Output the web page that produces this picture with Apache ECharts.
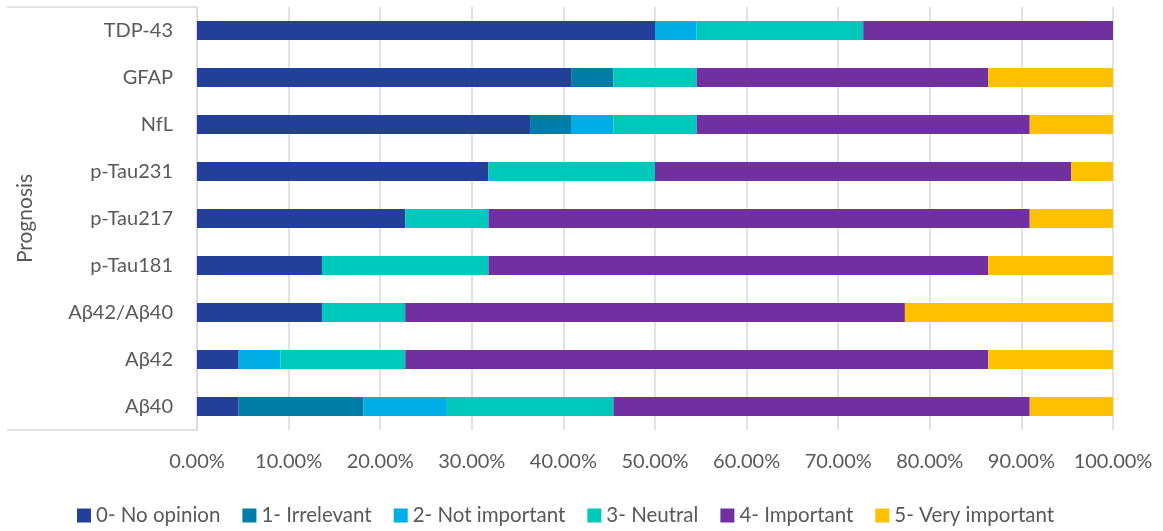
<!DOCTYPE html>
<html>
<head>
<meta charset="utf-8">
<script src="https://cdn.jsdelivr.net/npm/echarts@6/dist/echarts.min.js"></script>
<style>
  html, body { margin: 0; padding: 0; background: #fff; }
  #chart { width: 1163px; height: 531px; }
</style>
</head>
<body>
<div id="chart"></div>
<script>
// Biomarkers, listed bottom-up as drawn on the category axis
const biomarkers = ['Aβ40', 'Aβ42', 'Aβ42/Aβ40', 'p-Tau181', 'p-Tau217', 'p-Tau231', 'NfL', 'GFAP', 'TDP-43'];

// Share of respondents (%) per rating, same order as biomarkers
const noOpinion     = [4.55, 4.55, 13.64, 13.64, 22.73, 31.82, 36.36, 40.91, 50.00];
const irrelevant    = [13.64, 0, 0, 0, 0, 0, 4.55, 4.55, 0];
const notImportant  = [9.09, 4.55, 0, 0, 0, 0, 4.55, 0, 4.55];
const neutral       = [18.18, 13.64, 9.09, 18.18, 9.09, 18.18, 9.09, 9.09, 18.18];
const important     = [45.45, 63.64, 54.55, 54.55, 59.09, 45.45, 36.36, 31.82, 27.27];
const veryImportant = [9.09, 13.63, 22.72, 13.63, 9.09, 4.55, 9.09, 13.63, 0];

const ratingNames  = ['0- No opinion', '1- Irrelevant', '2- Not important', '3- Neutral', '4- Important', '5- Very important'];
const ratingValues = [noOpinion, irrelevant, notImportant, neutral, important, veryImportant];
const ratingColors = ['#22409A', '#007DA6', '#00AEE6', '#00C9BC', '#7030A0', '#FFC000'];

const groupTitle = 'Prognosis';
const xTicks = [0, 10, 20, 30, 40, 50, 60, 70, 80, 90, 100];

const FONT = 'Lato, "Open Sans", sans-serif';
const GRID = { left: 197, right: 50, top: 7, bottom: 101 };
const W = 1163, H = 531;
const gridBottomY = H - GRID.bottom;
const bracketLeft = 7;

const chart = echarts.init(document.getElementById('chart'), null, { renderer: 'canvas' });

chart.setOption({
  animation: false,
  backgroundColor: '#ffffff',
  color: ratingColors,
  grid: GRID,
  legend: {
    top: 500,
    left: 72,
    itemWidth: 14,
    itemHeight: 14,
    itemGap: 22,
    icon: 'rect',
    textStyle: { fontFamily: FONT, fontSize: 20.5, color: '#595959' },
    data: ratingNames
  },
  xAxis: {
    type: 'value',
    min: xTicks[0],
    max: xTicks[xTicks.length - 1],
    interval: 10,
    axisLine: { show: false },
    axisTick: { show: false },
    splitLine: { show: true, lineStyle: { color: '#d9d9d9', width: 1.5 } },
    axisLabel: {
      margin: 22,
      fontFamily: FONT,
      fontSize: 20,
      color: '#595959',
      formatter: v => v.toFixed(2) + '%'
    }
  },
  yAxis: {
    type: 'category',
    data: biomarkers,
    axisLine: { show: true, lineStyle: { color: '#d9d9d9', width: 1.5 } },
    axisTick: { show: false },
    axisLabel: {
      margin: 24,
      fontFamily: FONT,
      fontSize: 20,
      color: '#595959'
    }
  },
  graphic: [
    {
      type: 'line',
      shape: { x1: bracketLeft, y1: GRID.top, x2: GRID.left, y2: GRID.top },
      style: { stroke: '#d9d9d9', lineWidth: 1.5 }
    },
    {
      type: 'line',
      shape: { x1: bracketLeft, y1: gridBottomY, x2: GRID.left, y2: gridBottomY },
      style: { stroke: '#d9d9d9', lineWidth: 1.5 }
    },
    {
      type: 'text',
      x: 25,
      y: (GRID.top + gridBottomY) / 2,
      rotation: Math.PI / 2,
      style: {
        text: groupTitle,
        fontFamily: FONT,
        fontSize: 21,
        fill: '#595959',
        align: 'center',
        verticalAlign: 'middle'
      }
    }
  ],
  series: ratingNames.map((name, i) => ({
    name,
    type: 'bar',
    stack: 'total',
    barWidth: '40%',
    data: ratingValues[i],
    itemStyle: { color: ratingColors[i] }
  }))
});
</script>
</body>
</html>
